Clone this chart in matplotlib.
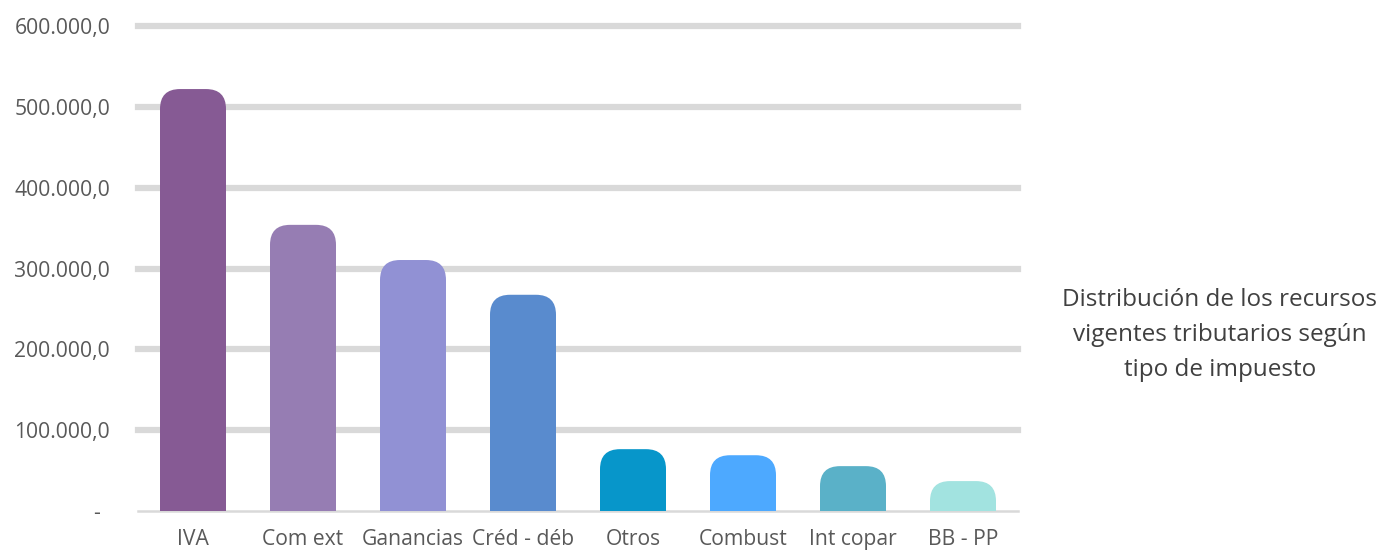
import matplotlib
matplotlib.use("Agg")
import matplotlib.pyplot as plt
from matplotlib.patches import FancyBboxPatch
import numpy as np

# data
categories = ["IVA", "Com ext", "Ganancias", "Créd - déb", "Otros",
              "Combust", "Int copar", "BB - PP"]
values = [522000, 354000, 310500, 267500, 76500, 69000, 55500, 37000]
colors = ["#865A94", "#967DB3", "#9191D4", "#598BCE",
          "#0796CA", "#4DA9FF", "#5AB1C8", "#A2E3E0"]
yticks = [0, 100000, 200000, 300000, 400000, 500000, 600000]
ytick_labels = ["-", "100.000,0", "200.000,0", "300.000,0",
                "400.000,0", "500.000,0", "600.000,0"]
title = "Distribución de los recursos\nvigentes tributarios según\ntipo de impuesto"

plt.rcParams['font.family'] = ['Open Sans', 'DejaVu Sans']

fig = plt.figure(figsize=(13.85, 5.51), dpi=100)
ax = fig.add_axes([138 / 1385, 1 - 511 / 551, 880 / 1385, 485 / 551])

ax.set_xlim(-0.5, len(categories) - 0.5)
ax.set_ylim(0, 600000)

# gridlines
ax.set_yticks(yticks)
ax.set_yticklabels(ytick_labels)
ax.yaxis.grid(True, color='#D9D9D9', linewidth=4.5, zorder=0)
ax.yaxis.get_gridlines()[0].set_linewidth(1.8)
for gl in ax.yaxis.get_gridlines():
    gl.set_clip_on(False)
ax.set_axisbelow(True)

for s in ['top', 'bottom', 'left', 'right']:
    ax.spines[s].set_visible(False)
ax.tick_params(axis='both', length=0, labelsize=15.2, colors='#595959')
ax.tick_params(axis='y', pad=20)
ax.tick_params(axis='x', pad=13)
ax.set_xticks(range(len(categories)))
ax.set_xticklabels(categories)
# the "-" label sits a bit further left in the original
ax.get_yticklabels()[0].set_x(-0.012)

# rounded-top bars: round box extending below zero, clipped by the axes
fig.canvas.draw()
bbox = ax.get_window_extent()
x_per_px = (len(categories)) / bbox.width
y_per_px = 600000 / bbox.height
aspect = y_per_px / x_per_px
radius_px = 20
width = 0.6
for i, (v, c) in enumerate(zip(values, colors)):
    extra = radius_px * 2 * y_per_px
    box = FancyBboxPatch((i - width / 2, -extra), width, v + extra,
                         boxstyle="round,pad=0,rounding_size=%f" % (radius_px * x_per_px),
                         mutation_aspect=aspect,
                         facecolor=c, edgecolor='none', zorder=2)
    ax.add_patch(box)

fig.text(1220 / 1385, 1 - 335 / 551, title, ha='center', va='center',
         fontsize=17.5, color='#404040', linespacing=1.62)

fig.savefig("out.png", dpi=100)
